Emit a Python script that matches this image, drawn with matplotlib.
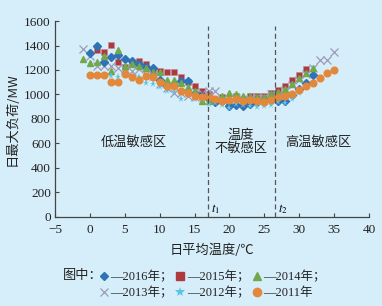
import numpy as np
import matplotlib
matplotlib.use("Agg")
import matplotlib.pyplot as plt
from matplotlib.lines import Line2D

# fonts: serif for numbers, CJK for Chinese text
cjk = ['Noto Sans CJK SC', 'DejaVu Sans']
num = 'Liberation Serif'
mixed = [num, 'Noto Sans CJK SC']

# daily mean temperature (degC) and daily peak load (MW) per year
t2016 = list(range(0, 33))
v2016 = [1335, 1395, 1265, 1305, 1320, 1290, 1270, 1250, 1225, 1215, 1115,
         1080, 1080, 1110, 1110, 1010, 985, 965, 940, 950, 905, 915, 905,
         925, 940, 955, 955, 950, 945, 995, 1045, 1095, 1160]

t2015 = list(range(1, 32))
v2015 = [1362, 1350, 1408, 1268, 1225, 1255, 1270, 1245, 1195, 1190, 1185,
         1180, 1145, 1105, 1070, 1025, 1000, 945, 980, 920, 985, 960, 985,
         990, 990, 1015, 1035, 1065, 1120, 1160, 1210]

t2014 = list(range(-1, 33))
v2014 = [1288, 1260, 1268, 1315, 1188, 1365, 1235, 1250, 1230, 1220, 1185,
         1180, 1120, 1115, 1095, 1060, 1025, 950, 945, 960, 985, 1010, 1005,
         990, 985, 975, 975, 1000, 1020, 1045, 1085, 1135, 1175, 1215]

t2013 = list(range(-1, 36))
v2013 = [1368, 1318, 1235, 1230, 1235, 1215, 1205, 1195, 1205, 1165, 1150,
         1085, 1050, 1015, 1010, 985, 975, 1010, 1030, 1025, 960, 935, 970,
         950, 965, 975, 975, 1000, 1005, 1040, 1075, 1120, 1170, 1215, 1280,
         1280, 1350]

t2012 = list(range(3, 32))
v2012 = [1150, 1140, 1160, 1130, 1140, 1090, 1085, 1060, 1025, 1020, 965,
         1000, 965, 960, 920, 930, 910, 890, 925, 915, 905, 900, 905, 915,
         935, 930, 960, 1010, 1060]

t2011 = list(range(0, 36))
v2011 = [1160, 1160, 1160, 1105, 1105, 1165, 1145, 1120, 1150, 1145, 1105,
         1070, 1065, 1030, 1010, 985, 975, 980, 960, 950, 955, 965, 945, 955,
         950, 935, 955, 975, 985, 1005, 1035, 1065, 1095, 1135, 1175, 1200]

t1, t2 = 16.9, 26.5
bg = '#d6eef9'

fig = plt.figure(figsize=(3.82, 3.06), dpi=100, facecolor=bg)
ax = fig.add_axes([0.144, 0.292, 0.822, 0.639])
ax.set_facecolor(bg)

ms = 4.6
ax.plot(t2015, v2015, 's', color='#ad3a3f', mec='#c98a8c', mew=0.4, ms=ms, ls='none')
ax.plot(t2013, v2013, 'x', color='#9b9ab8', mew=0.9, ms=ms + 0.6, ls='none')
ax.plot(t2016, v2016, 'D', color='#2f72b5', ms=ms - 0.6, ls='none')
ax.plot(t2014, v2014, '^', color='#72a84c', ms=ms + 0.2, ls='none')
ax.plot(t2012, v2012, '*', color='#5cc3e2', ms=ms + 0.6, ls='none', mew=0)
ax.plot(t2011, v2011, 'o', color='#e3883a', ms=ms + 0.2, ls='none')

# boundaries of the temperature-insensitive zone
ax.vlines([t1, t2], 0, 1560, colors='#555555', linestyles=(0, (4, 2.5)), lw=0.9)
ax.text(t1 + 0.4, 40, r'$t_1$', fontsize=9, family=num, math_fontfamily='stix')
ax.text(t2 + 0.4, 40, r'$t_2$', fontsize=9, family=num, math_fontfamily='stix')

ax.text(6.3, 610, '低温敏感区', ha='center', va='center', fontsize=9.5, family=cjk, color='#222222')
ax.text(21.6, 610, '温度\n不敏感区', ha='center', va='center', fontsize=9.5, family=cjk,
        color='#222222', linespacing=1.05)
ax.text(32.8, 610, '高温敏感区', ha='center', va='center', fontsize=9.5, family=cjk, color='#222222')

ax.set_xlim(-5, 40)
ax.set_ylim(0, 1600)
ax.set_xticks(np.arange(-5, 41, 5))
ax.set_yticks(np.arange(0, 1601, 200))
for s in ['top', 'right']:
    ax.spines[s].set_visible(False)
for s in ['left', 'bottom']:
    ax.spines[s].set_color('#444444')
    ax.spines[s].set_linewidth(0.9)
ax.tick_params(direction='in', length=3, width=0.8, colors='#444444', labelcolor='#222222',
               labelsize=9.5, pad=3)
ax.tick_params(axis='x', pad=5)
for lab in ax.get_xticklabels() + ax.get_yticklabels():
    lab.set_family(num)

ax.set_xlabel('日平均温度/℃', family=cjk, fontsize=9.5, color='#222222', labelpad=6)
ax.set_ylabel('日最大负荷/MW', family=cjk, fontsize=9.5, color='#222222', labelpad=4)

# legend: column-major order so rows read 2016/2015/2014 and 2013/2012/2011
handles = [
    Line2D([], [], marker='D', color='#2f72b5', ls='none', ms=4.5),
    Line2D([], [], marker='x', color='#9b9ab8', ls='none', ms=5.5, mew=0.9),
    Line2D([], [], marker='s', color='#ad3a3f', ls='none', ms=6),
    Line2D([], [], marker='*', color='#5cc3e2', ls='none', ms=7, mew=0),
    Line2D([], [], marker='^', color='#72a84c', ls='none', ms=6),
    Line2D([], [], marker='o', color='#e3883a', ls='none', ms=6),
]
labels = ['—2016年；', '—2013年；', '—2015年；', '—2012年；', '—2014年；', '—2011年']
leg = fig.legend(handles, labels, ncol=3, loc='center', bbox_to_anchor=(0.555, 0.068),
                 frameon=False, handlelength=0.9, handletextpad=0.05, columnspacing=0.15,
                 labelspacing=0.35, prop={'family': mixed, 'size': 9})
for txt in leg.get_texts():
    txt.set_color('#222222')
fig.text(0.165, 0.101, '图中：', family=cjk, fontsize=9.5, color='#222222', va='center')

fig.savefig('out.png', dpi=100, facecolor=bg)
